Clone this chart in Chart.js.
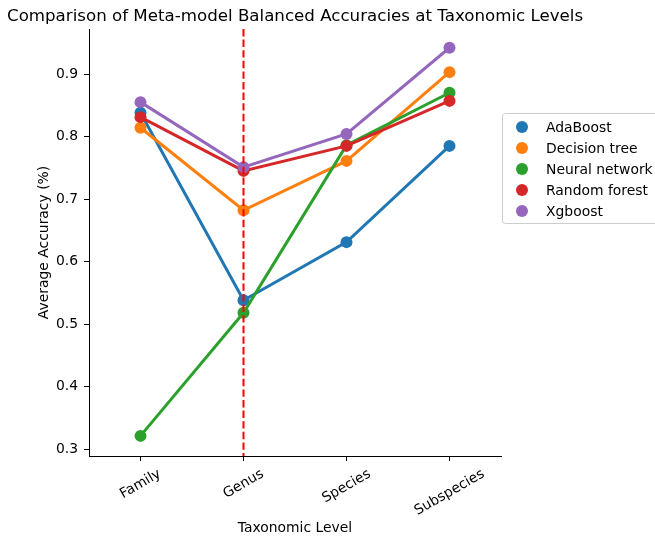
<!DOCTYPE html>
<html>
<head>
<meta charset="utf-8">
<script src="https://cdn.jsdelivr.net/npm/chart.js@4.4.1/dist/chart.umd.min.js"></script>
<style>
html,body{margin:0;padding:0;background:#fff;}
canvas{display:block;}
</style>
</head>
<body>
<canvas id="c" width="655" height="537"></canvas>
<script>
const categories = ['Family', 'Genus', 'Species', 'Subspecies'];
const seriesNames = ['AdaBoost', 'Decision tree', 'Neural network', 'Random forest', 'Xgboost'];
const adaboost = [0.838, 0.538, 0.631, 0.785];
const decisionTree = [0.814, 0.682, 0.761, 0.903];
const neuralNetwork = [0.321, 0.518, 0.786, 0.870];
const randomForest = [0.831, 0.745, 0.785, 0.857];
const xgboost = [0.855, 0.751, 0.804, 0.942];
const yTicks = [0.3, 0.4, 0.5, 0.6, 0.7, 0.8, 0.9];
const highlightCategory = 'Genus';
const titleText = 'Comparison of Meta-model Balanced Accuracies at Taxonomic Levels';
const xTitle = 'Taxonomic Level';
const yTitle = 'Average Accuracy (%)';

const colors = ['#1f77b4', '#ff7f0e', '#2ca02c', '#d62728', '#9467bd'];
const allSeries = [adaboost, decisionTree, neuralNetwork, randomForest, xgboost];
const FONT = '"DejaVu Sans", sans-serif';

const datasets = allSeries.map((d, i) => ({
  label: seriesNames[i],
  data: d,
  borderColor: colors[i],
  backgroundColor: colors[i],
  pointBackgroundColor: colors[i],
  pointBorderWidth: 0,
  pointRadius: 6,
  borderWidth: 3,
  tension: 0,
  fill: false,
  order: allSeries.length - 1 - i
}));

const overlay = {
  id: 'overlay',
  afterDatasetsDraw(chart) {
    const ctx = chart.ctx;
    const xs = chart.scales.x;
    const area = chart.chartArea;
    const x = xs.getPixelForValue(categories.indexOf(highlightCategory));
    ctx.save();
    ctx.strokeStyle = '#ff0000';
    ctx.lineWidth = 2;
    ctx.setLineDash([7.4, 3.2]);
    ctx.beginPath();
    ctx.moveTo(x, area.top);
    ctx.lineTo(x, area.bottom);
    ctx.stroke();
    ctx.restore();
  },
  afterDraw(chart) {
    const ctx = chart.ctx;
    const xs = chart.scales.x;
    const area = chart.chartArea;
    ctx.save();
    // title
    ctx.fillStyle = '#000';
    ctx.font = '16.67px ' + FONT;
    ctx.textAlign = 'left';
    ctx.textBaseline = 'alphabetic';
    ctx.fillText(titleText, 7, 21);
    // x tick labels rotated 30deg, centered
    ctx.font = '13.9px ' + FONT;
    categories.forEach((c, i) => {
      const x = xs.getPixelForValue(i);
      const w = ctx.measureText(c).width;
      const h = 16;
      const a = Math.PI / 6;
      const bboxH = w * Math.sin(a) + h * Math.cos(a);
      const cy = area.bottom + 10 + bboxH / 2;
      ctx.save();
      ctx.translate(x, cy);
      ctx.rotate(-a);
      ctx.textAlign = 'center';
      ctx.textBaseline = 'middle';
      ctx.fillText(c, 0, 0);
      ctx.restore();
    });
    // x title
    ctx.textAlign = 'center';
    ctx.textBaseline = 'middle';
    ctx.fillText(xTitle, (area.left + area.right) / 2, 528);
    // y title
    ctx.save();
    ctx.translate(44, (area.top + area.bottom) / 2);
    ctx.rotate(-Math.PI / 2);
    ctx.fillText(yTitle, 0, 0);
    ctx.restore();
    // legend
    const lx = 502, ly = 113, lw = 160, lh = 110;
    ctx.fillStyle = 'rgba(255,255,255,0.8)';
    ctx.strokeStyle = '#cccccc';
    ctx.lineWidth = 1;
    ctx.beginPath();
    if (ctx.roundRect) ctx.roundRect(lx + 0.5, ly + 0.5, lw, lh, 3); else ctx.rect(lx + 0.5, ly + 0.5, lw, lh);
    ctx.fill();
    ctx.stroke();
    ctx.textAlign = 'left';
    ctx.textBaseline = 'middle';
    seriesNames.forEach((n, i) => {
      const y = 127 + i * 21;
      ctx.fillStyle = colors[i];
      ctx.beginPath();
      ctx.arc(522, y, 6, 0, Math.PI * 2);
      ctx.fill();
      ctx.fillStyle = '#000';
      ctx.fillText(n, 546, y + 1);
    });
    ctx.restore();
  }
};

new Chart(document.getElementById('c'), {
  type: 'line',
  data: { labels: categories, datasets },
  options: {
    responsive: false,
    animation: false,
    devicePixelRatio: 1,
    layout: { padding: { top: 29, right: 154, left: 0, bottom: 0 } },
    plugins: { legend: { display: false }, title: { display: false }, tooltip: { enabled: false } },
    scales: {
      x: {
        type: 'category',
        offset: true,
        grid: { drawOnChartArea: false, drawTicks: true, tickLength: 5, color: '#000', offset: false },
        border: { display: true, color: '#000', width: 1 },
        ticks: { display: false },
        afterFit(s) { s.height = 81; }
      },
      y: {
        min: 0.2888,
        max: 0.972,
        grid: { drawOnChartArea: false, drawTicks: true, tickLength: 5, color: '#000' },
        border: { display: true, color: '#000', width: 1 },
        ticks: {
          color: '#000',
          padding: 6,
          font: { family: FONT, size: 13.9 },
          callback: v => v.toFixed(1)
        },
        afterBuildTicks(s) { s.ticks = yTicks.map(v => ({ value: v })); },
        afterFit(s) { s.width = 89; }
      }
    }
  },
  plugins: [overlay]
});
</script>
</body>
</html>
